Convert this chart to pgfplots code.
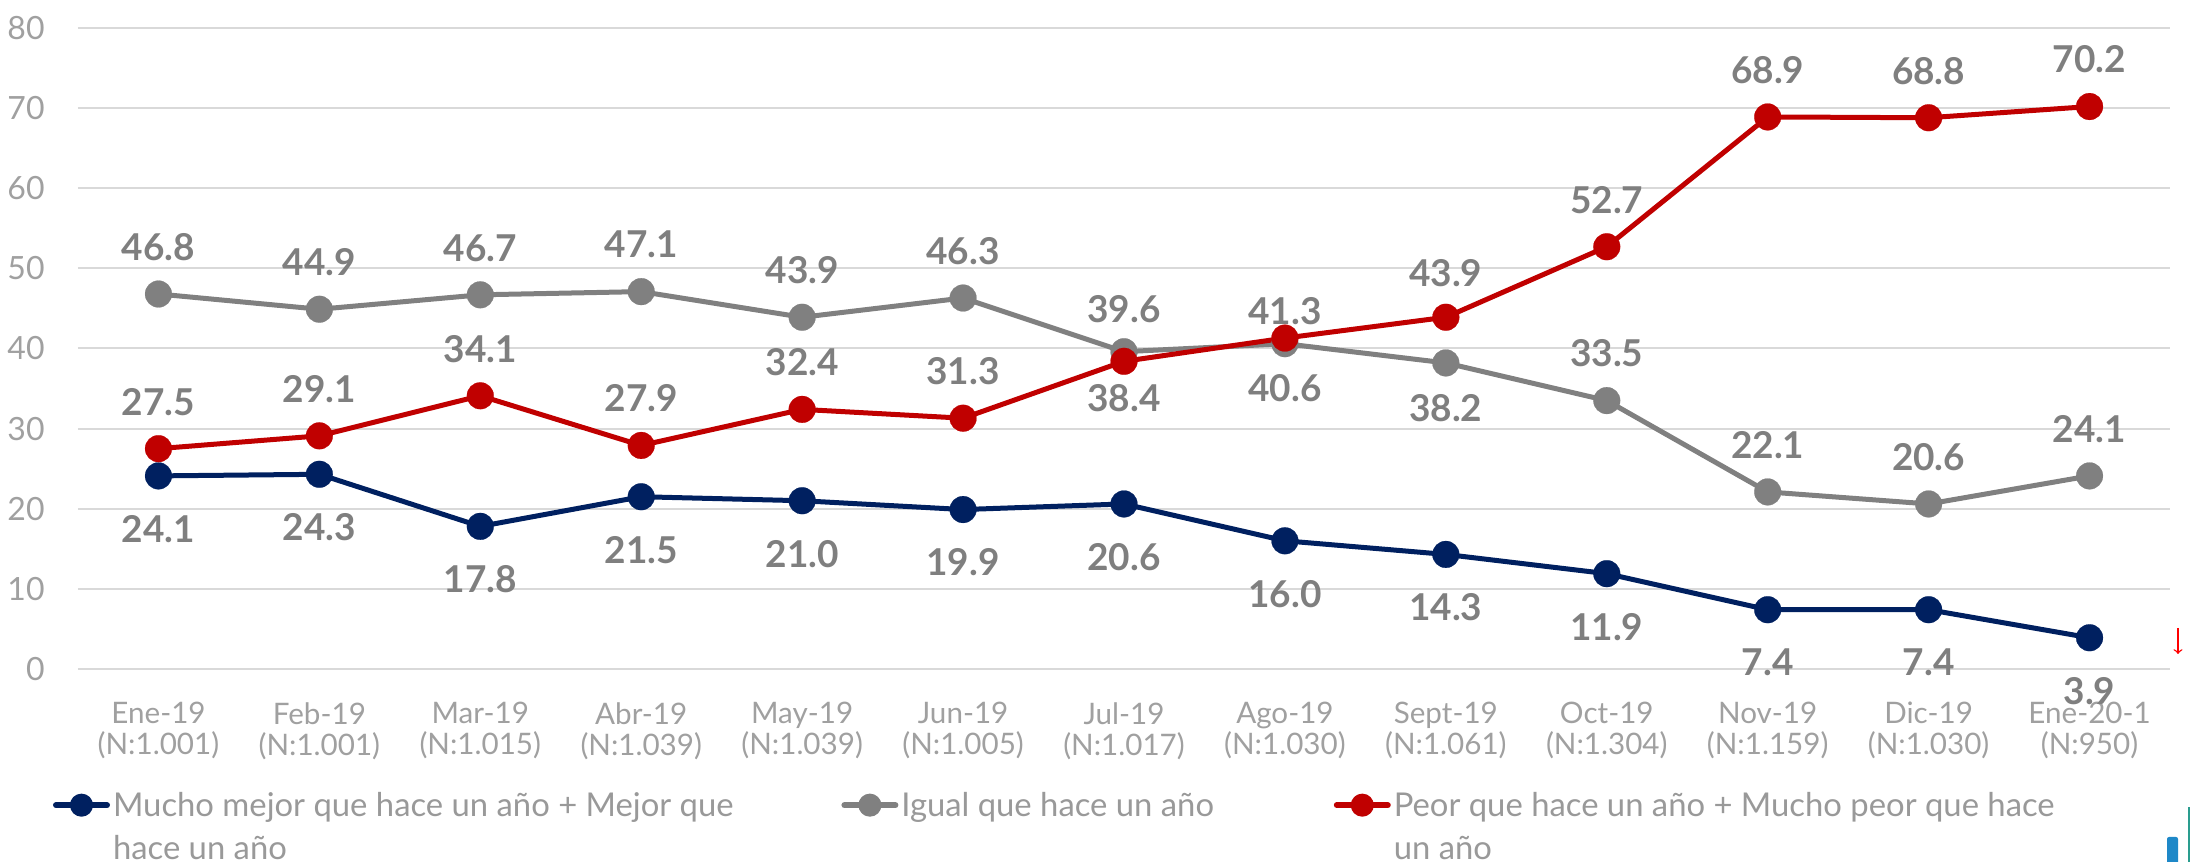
\documentclass[border=0pt]{standalone}
\usepackage{pgfplots}
\usepackage{pgfplotstable}
\pgfplotsset{compat=1.18}
\usepackage{fontspec}
\setmainfont{Lato}
\definecolor{cblue}{HTML}{002060}
\definecolor{cgray}{HTML}{808080}
\definecolor{cred}{HTML}{C00000}
\definecolor{lblgray}{HTML}{7F7F7F}
\definecolor{tickgray}{HTML}{A0A0A0}
\definecolor{leggray}{HTML}{999999}
\definecolor{gridgray}{HTML}{D9D9D9}
\definecolor{logoblue}{HTML}{1E88C8}
\definecolor{logoteal}{HTML}{2A9D8F}

\pgfplotstableread{
x y dy
0 24.1 -26.5
1 24.3 -26.5
2 17.8 -26.5
3 21.5 -26.5
4 21.0 -26.5
5 19.9 -26.5
6 20.6 -26.5
7 16.0 -26.5
8 14.3 -26.5
9 11.9 -26.5
10 7.4 -26.5
11 7.4 -26.5
12 3.9 -26.5
}\bluetab

\pgfplotstableread{
x y dy
0 46.8 23.5
1 44.9 23.5
2 46.7 23.5
3 47.1 23.5
4 43.9 23.5
5 46.3 23.5
6 39.6 21.5
7 40.6 -22
8 38.2 -22.5
9 33.5 23.5
10 22.1 23.5
11 20.6 23.5
12 24.1 23.5
}\graytab

\pgfplotstableread{
x y dy
0 27.5 23.5
1 29.1 23.5
2 34.1 23.5
3 27.9 23.5
4 32.4 23.5
5 31.3 23.5
6 38.4 -18.5
7 41.3 13.5
8 43.9 22
9 52.7 23.5
10 68.9 23.5
11 68.8 23.5
12 70.2 23.5
}\redtab

\begin{document}
\begin{tikzpicture}
\useasboundingbox (0,0) rectangle (1095pt,431pt);
\begin{axis}[
  at={(39pt,96.5pt)}, anchor=south west,
  width=1046pt, height=320.5pt, scale only axis,
  xmin=-0.5, xmax=12.5, ymin=0, ymax=80,
  xtick={0,...,12},
  xticklabels={{Ene-19\\(N:1.001)},{Feb-19\\(N:1.001)},{Mar-19\\(N:1.015)},{Abr-19\\(N:1.039)},{May-19\\(N:1.039)},{Jun-19\\(N:1.005)},{Jul-19\\(N:1.017)},{Ago-19\\(N:1.030)},{Sept-19\\(N:1.061)},{Oct-19\\(N:1.304)},{Nov-19\\(N:1.159)},{Dic-19\\(N:1.030)},{Ene-20-1\\(N:950)}},
  ytick={0,10,...,80},
  /pgf/number format/assume math mode=true,
  ymajorgrids, grid style={gridgray, line width=1pt},
  axis line style={draw=none},
  major tick length=0pt,
  clip=false,
  xticklabel style={font=\fontsize{14.8}{15.5}\selectfont, text=tickgray, align=center, inner sep=0pt, anchor=north, yshift=-16.5pt},
  yticklabel style={font=\fontsize{16}{18}\selectfont, text=tickgray, anchor=east, inner sep=0pt, xshift=-16.5pt},
  nodes near coords={\pgfmathprintnumber[fixed,fixed zerofill,precision=1,assume math mode=true]{\pgfplotspointmeta}},
  visualization depends on={\thisrow{dy} \as \dy},
  every node near coord/.append style={anchor=center, yshift=\dy pt, font=\fontsize{18.5}{20}\selectfont\bfseries, text=lblgray, inner sep=0pt},
  legend columns=3,
  legend image code/.code={
    \draw[#1, line width=3pt, line cap=round, mark=none] (1.5pt,5.5pt) -- (27pt,5.5pt);
    \fill[#1] (14.25pt,5.5pt) circle (4.5pt);
  },
  legend style={draw=none, fill=none, at={(0,0)}, anchor=north west, xshift=-12.5pt, yshift=-61.5pt,
    inner sep=0pt, outer sep=0pt, nodes={inner sep=0pt}, cells={anchor=base west},
    font=\fontsize{16.4}{21.5}\selectfont, text=leggray,
    /tikz/every odd column/.append style={column sep=1.5pt}},
]
\addplot[color=cblue, line width=2.5pt, line join=round, mark=*, mark size=6.7pt, mark options={line width=0.1pt}] table[x=x,y=y]{\bluetab};
\addlegendentry{\parbox[t]{364.2pt}{\raggedright Mucho mejor que hace un año + Mejor que\\hace un año}}
\addplot[color=cgray, line width=2.5pt, line join=round, mark=*, mark size=6.7pt, mark options={line width=0.1pt}] table[x=x,y=y]{\graytab};
\addlegendentry{\parbox[t]{216.2pt}{\raggedright Igual que hace un año}}
\addplot[color=cred, line width=2.5pt, line join=round, mark=*, mark size=6.7pt, mark options={line width=0.1pt}] table[x=x,y=y]{\redtab};
\addlegendentry{\parbox[t]{380pt}{\raggedright Peor que hace un año + Mucho peor que hace\\un año}}
\end{axis}
\draw[red, line width=0.7pt, ->] (1089pt,117pt) -- (1089pt,104pt);
\fill[logoblue, rounded corners=1pt] (1083.5pt,-1pt) rectangle (1089pt,12.5pt);
\fill[logoteal] (1094pt,0pt) rectangle (1096pt,27.5pt);
\end{tikzpicture}
\end{document}
